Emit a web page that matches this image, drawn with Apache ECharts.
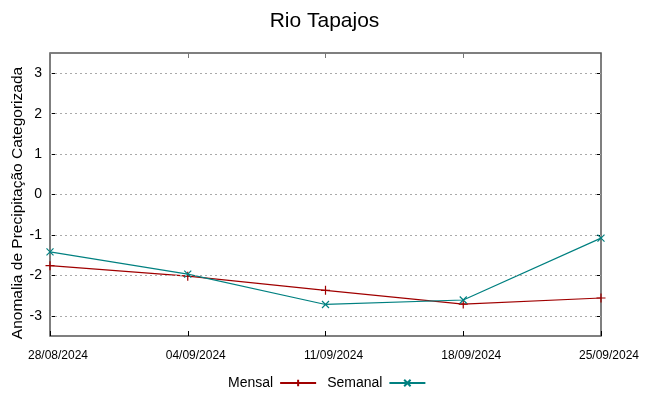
<!DOCTYPE html>
<html><head><meta charset="utf-8">
<script src="https://cdn.jsdelivr.net/npm/echarts@6/dist/echarts.min.js"></script>
<style>html,body{margin:0;padding:0;background:#fff}#c{width:649px;height:396px}</style>
</head><body><div id="c"></div>
<script>
const categories = ['28/08/2024','04/09/2024','11/09/2024','18/09/2024','25/09/2024'];
const mensal = [-1.76, -2.02, -2.37, -2.71, -2.56];
const semanal = [-1.42, -1.97, -2.72, -2.61, -1.08];
const yTicks = [-3,-2,-1,0,1,2,3];
const yTitle = 'Anomalia de Precipitação Categorizada';

const font = 'Liberation Sans, Arial, sans-serif';
const plus = 'path://M0,5L10,5M5,0L5,10';
const cross = 'path://M0,0L10,10M10,0L0,10';
const chart = echarts.init(document.getElementById('c'));
chart.setOption({
  animation: false,
  title: {text: 'Rio Tapajos', left: 'center', top: 6, textStyle: {fontFamily: font, fontSize: 21, fontWeight: 'normal', color: '#000'}},
  grid: {left: 50, right: 48, top: 53, bottom: 60, outerBoundsMode: 'none', containLabel: false,
    show: true, borderColor: '#555', borderWidth: 1.5, backgroundColor: 'transparent'},
  graphic: [{
    type: 'text', x: 18, y: 203, rotation: Math.PI / 2,
    style: {text: yTitle, fontFamily: font, fontSize: 15.5, fill: '#000', align: 'center', verticalAlign: 'middle'}
  }],
  legend: {
    bottom: 1, left: 223, align: 'right', itemGap: 10, itemWidth: 36, itemHeight: 8,
    textStyle: {fontFamily: font, fontSize: 14, color: '#000', padding: [0, 2, 0, 0]},
    data: [{name: 'Mensal'}, {name: 'Semanal'}]
  },
  xAxis: [{
    type: 'category', data: categories, boundaryGap: false,
    axisLine: {show: false, onZero: false},
    axisTick: {inside: true, length: 5, lineStyle: {color: '#000'}},
    axisLabel: {fontFamily: font, fontSize: 12, color: '#000', margin: 14, padding: [0, 0, 0, 16]},
    splitLine: {show: false}
  }, {
    type: 'category', data: categories, boundaryGap: false, position: 'top',
    axisLine: {show: false, onZero: false},
    axisTick: {inside: true, length: 5, lineStyle: {color: '#777'}},
    axisLabel: {show: false},
    splitLine: {show: false}
  }],
  yAxis: [{
    type: 'value', min: -3.5, max: 3.5,
    axisLine: {show: false},
    axisTick: {show: true, inside: true, length: 5, lineStyle: {color: '#000'}, customValues: yTicks},
    axisLabel: {fontFamily: font, fontSize: 14, color: '#000', margin: 8, customValues: yTicks},
    splitLine: {show: false}
  }, {
    type: 'value', min: -3.5, max: 3.5, position: 'right',
    axisLine: {show: false},
    axisTick: {show: true, inside: true, length: 5, lineStyle: {color: '#000'}, customValues: yTicks},
    axisLabel: {show: false},
    splitLine: {show: false}
  }],
  series: [
    {
      name: 'Mensal', type: 'line', data: mensal,
      symbol: plus, symbolSize: 9,
      lineStyle: {color: '#a00000', width: 1.2},
      itemStyle: {color: 'none', borderColor: '#a00000', borderWidth: 1.2},
      markLine: {
        silent: true, symbol: 'none', label: {show: false},
        lineStyle: {color: '#aaa', type: [2, 3], width: 1},
        data: yTicks.map(v => ({yAxis: v}))
      }
    },
    {
      name: 'Semanal', type: 'line', data: semanal,
      symbol: cross, symbolSize: 7,
      lineStyle: {color: '#008080', width: 1.2},
      itemStyle: {color: 'none', borderColor: '#008080', borderWidth: 1.2}
    }
  ]
});
</script></body></html>
